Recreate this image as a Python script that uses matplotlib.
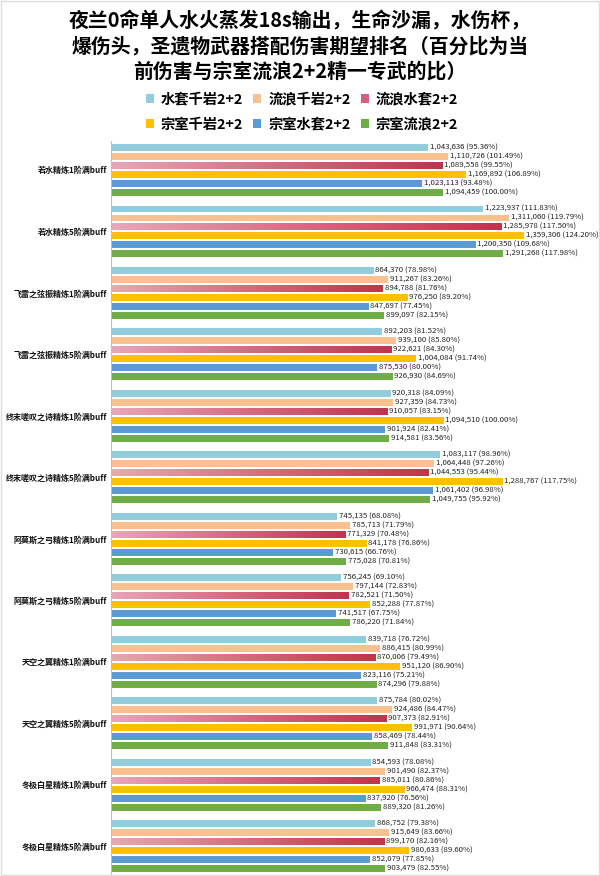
import numpy as np
import matplotlib
matplotlib.use("Agg")
import matplotlib.pyplot as plt
from matplotlib.colors import LinearSegmentedColormap
from matplotlib.patches import Patch, Rectangle

plt.rcParams['font.family'] = ['Noto Sans CJK SC', 'DejaVu Sans']

title = ("夜兰0命单人水火蒸发18s输出，生命沙漏，水伤杯，\n"
         "爆伤头，圣遗物武器搭配伤害期望排名（百分比为当\n"
         "前伤害与宗室流浪2+2精一专武的比）")

categories = ['若水精炼1阶满buff', '若水精炼5阶满buff',
              '飞雷之弦振精炼1阶满buff', '飞雷之弦振精炼5阶满buff',
              '终末嗟叹之诗精炼1阶满buff', '终末嗟叹之诗精炼5阶满buff',
              '阿莫斯之弓精炼1阶满buff', '阿莫斯之弓精炼5阶满buff',
              '天空之翼精炼1阶满buff', '天空之翼精炼5阶满buff',
              '冬极白星精炼1阶满buff', '冬极白星精炼5阶满buff']

series_names = ['水套千岩2+2', '流浪千岩2+2', '流浪水套2+2',
                '宗室千岩2+2', '宗室水套2+2', '宗室流浪2+2']

shui_qianyan = [1043636, 1223937, 864370, 892203, 920318, 1083117,
                745135, 756245, 839718, 875784, 854593, 868752]
liulang_qianyan = [1110726, 1311060, 911267, 939100, 927359, 1064448,
                   785713, 797144, 886415, 924486, 901490, 915649]
liulang_shui = [1089558, 1285978, 894788, 922621, 910057, 1044553,
                771329, 782521, 870006, 907373, 885011, 899170]
zongshi_qianyan = [1169892, 1359306, 976250, 1004084, 1094510, 1288767,
                   841178, 852288, 951120, 991971, 966474, 980633]
zongshi_shui = [1023113, 1200350, 847697, 875530, 901924, 1061402,
                730615, 741517, 823116, 858469, 837920, 852079]
zongshi_liulang = [1094459, 1291268, 899097, 926930, 914581, 1049755,
                   775028, 786220, 874296, 911848, 889320, 903479]

series = [shui_qianyan, liulang_qianyan, liulang_shui,
          zongshi_qianyan, zongshi_shui, zongshi_liulang]
base = zongshi_liulang[0]

colors = ['#92CDDC', '#FAC090', '#D9546E', '#FFC000', '#5B9BD5', '#70AD47']
grad = LinearSegmentedColormap.from_list('g', ['#E8A6B8', '#D56A82', '#C0344E'])

fig = plt.figure(figsize=(6, 8.76), dpi=100)
ax = fig.add_axes([0.185, 0.001, 0.80, 0.838])

n = len(categories)
y = np.arange(n)
step = 0.146
h = 0.112

for j, vals in enumerate(series):
    yy = y + (j - 2.5) * step
    bars = ax.barh(yy, vals, height=h, color=colors[j], zorder=2)
    if j == 2:
        # gradient fill for the 流浪水套 bars
        for b in bars:
            b.set_facecolor('none')
            x0, y0 = b.get_x(), b.get_y()
            im = ax.imshow(np.linspace(0, 1, 64).reshape(1, -1), cmap=grad,
                           extent=(x0, x0 + b.get_width(), y0, y0 + b.get_height()),
                           aspect='auto', zorder=2)
            im.set_clip_path(b)
    for v, yc in zip(vals, yy):
        ax.text(v + 6000, yc, f"{v:,} ({v / base * 100:.2f}%)",
                va='center', ha='left', fontsize=5.6, color='#222222')

ax.set_xlim(0, 1.58e6)
ax.set_ylim(11.47, -0.47)
ax.set_yticks(y)
ax.set_yticklabels(categories, fontsize=5.8, fontweight='semibold', color='#111111')
ax.tick_params(axis='y', length=0, pad=3)
ax.set_xticks([])
for s in ['top', 'bottom', 'right']:
    ax.spines[s].set_visible(False)
ax.spines['left'].set_color('#BFBFBF')

fig.text(0.5, 1 - 46 / 876, title, ha='center', va='center', fontsize=14.3,
         fontweight='bold', linespacing=1.25)

# legend is filled column by column, so reorder to read row by row
order = [0, 3, 1, 4, 2, 5]
leg_colors = list(colors)
leg_colors[2] = '#D0637B'
handles = [Patch(facecolor=leg_colors[i], edgecolor='none') for i in order]
labels = [series_names[i] for i in order]
fig.legend(handles, labels, loc='center', ncol=3,
           bbox_to_anchor=(302 / 600, 1 - 112 / 876), frameon=False,
           prop={'size': 10.3, 'weight': 'bold'},
           handlelength=0.55, handleheight=0.55,
           columnspacing=0.7, handletextpad=0.5, labelspacing=0.8)

# faint frame round the picture
fig.patches.append(Rectangle((0.002, 0.001), 0.996, 0.998, transform=fig.transFigure,
                             fill=False, edgecolor='#DDDDDD', linewidth=1))

fig.savefig('out.png', dpi=100)
